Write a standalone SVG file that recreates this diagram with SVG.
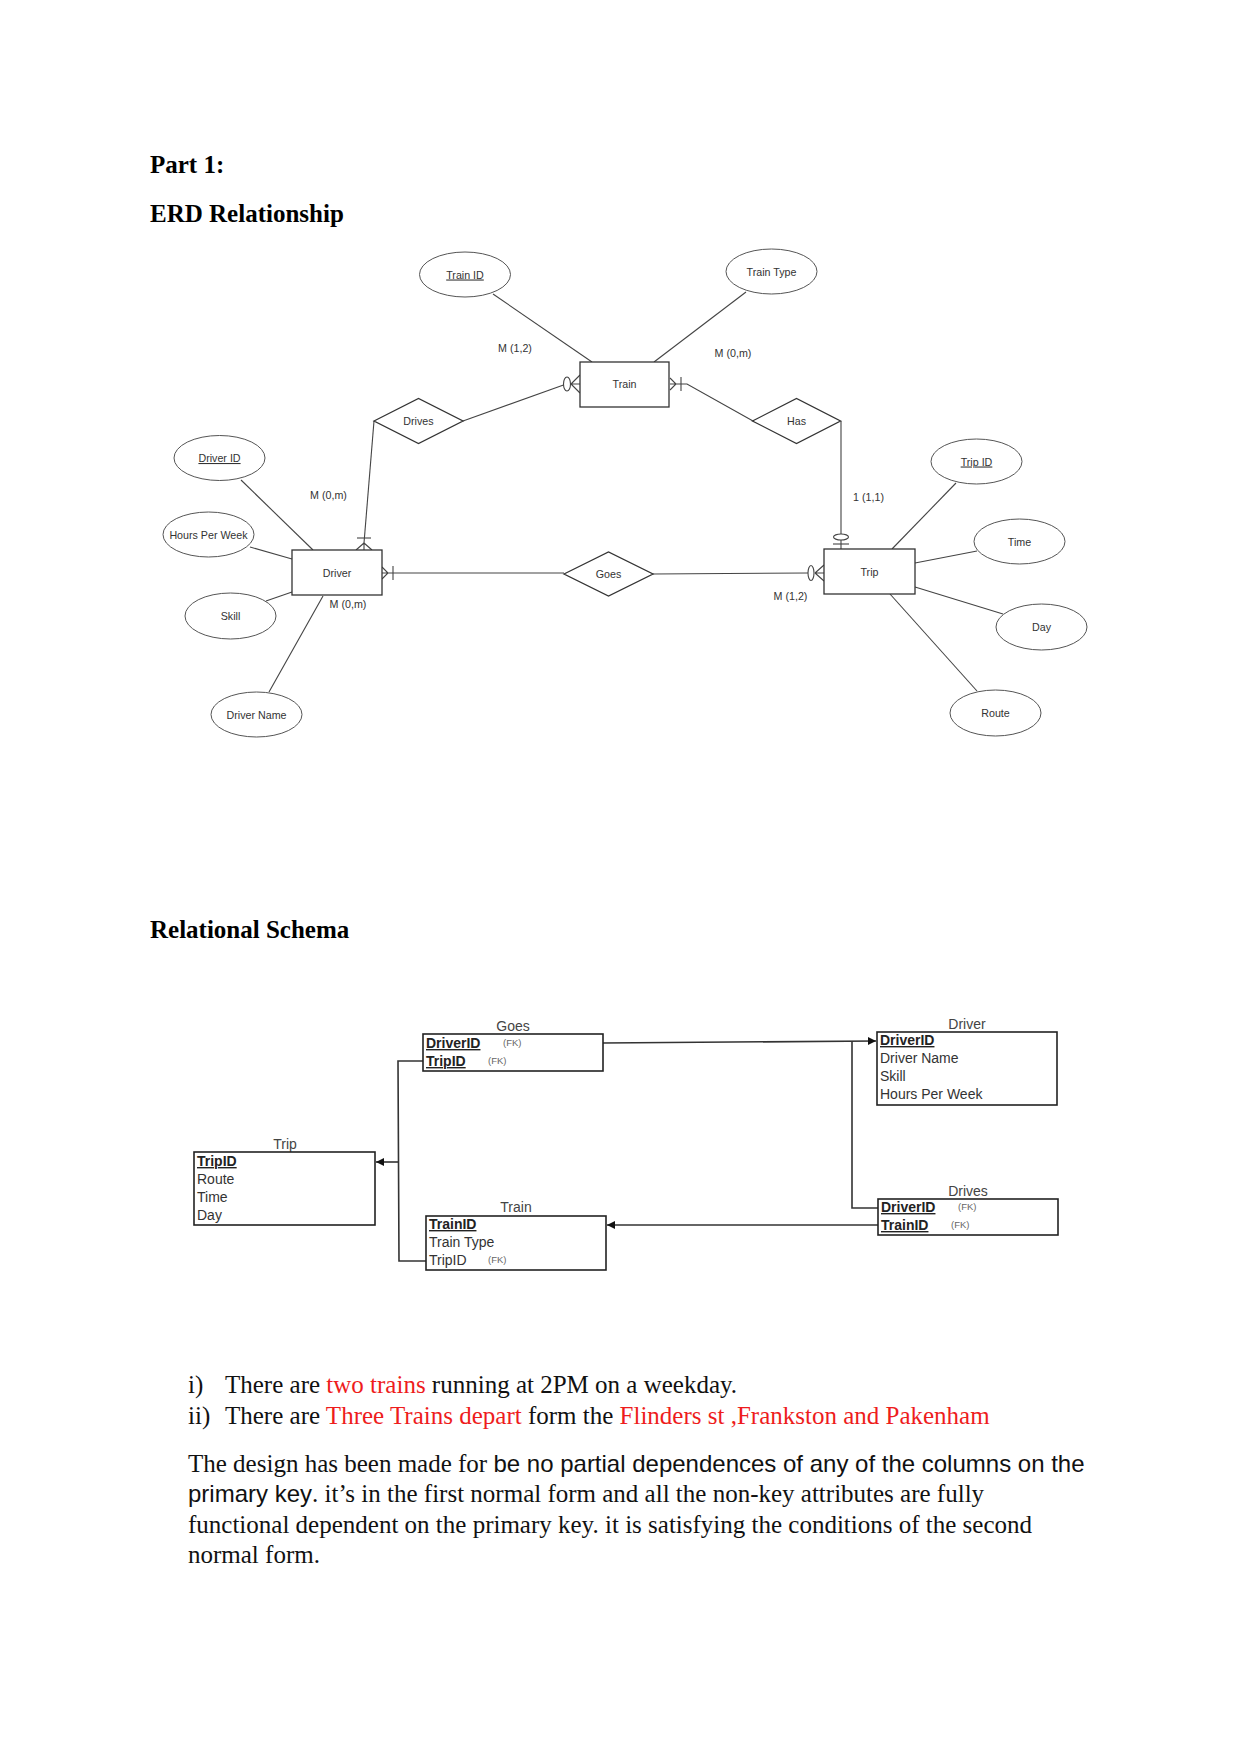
<svg xmlns="http://www.w3.org/2000/svg" width="1241" height="1754" viewBox="0 0 1241 1754">
<defs>
<style>
.h{font-family:"Liberation Serif","Times New Roman",serif;font-weight:bold;font-size:25px;fill:#000}
.b{font-family:"Liberation Serif","Times New Roman",serif;font-size:25px;fill:#111}
.s{font-family:"Liberation Sans",Arial,sans-serif;font-size:24px}
.red{fill:#ee1c1c}
.e{fill:#fff;stroke:#555;stroke-width:1}
.ent{fill:#fff;stroke:#333;stroke-width:1.3}
.t{font-family:"Liberation Sans",Arial,sans-serif;font-size:10.7px;fill:#333;text-anchor:middle}
.u{text-decoration:underline}
.ln{fill:none;stroke:#444;stroke-width:1.1}
.tb{fill:#fff;stroke:#222;stroke-width:1.6}
.tt{font-family:"Liberation Sans",Arial,sans-serif;font-size:14px;fill:#444;text-anchor:middle}
.r{font-family:"Liberation Sans",Arial,sans-serif;font-size:14px;fill:#333}
.k{font-weight:bold;text-decoration:underline;fill:#222}
.fk{font-family:"Liberation Sans",Arial,sans-serif;font-size:9.5px;fill:#666}
.sc{fill:none;stroke:#333;stroke-width:1.6}
</style>
<marker id="arr" viewBox="0 0 10 10" refX="10" refY="5" markerWidth="8" markerHeight="9" markerUnits="userSpaceOnUse" orient="auto">
<path d="M0,0 L10,5 L0,10 Z" fill="#111"/>
</marker>
</defs>
<rect width="1241" height="1754" fill="#fff"/>

<text class="h" x="150" y="173">Part 1:</text>
<text class="h" x="150" y="222">ERD Relationship</text>

<g id="connectors">
<path class="ln" d="M493,294 L592,362"/>
<path class="ln" d="M746,292 L654,362"/>
<path class="ln" d="M241,480 L313,550"/>
<path class="ln" d="M250,547 L292,559"/>
<path class="ln" d="M266,601 L292,592"/>
<path class="ln" d="M269,692 L323,596"/>
<path class="ln" d="M956,483 L892,549"/>
<path class="ln" d="M977,551 L915,563"/>
<path class="ln" d="M1003,614 L915,587"/>
<path class="ln" d="M977,691 L890,594"/>
<!-- Drives - Train -->
<path class="ln" d="M463,421 L563.5,385"/>
<ellipse class="ln" cx="567" cy="384" rx="3.5" ry="7"/>
<path class="ln" d="M571,384 L580,375 M571,384 L580,393 M571,384 L580,384"/>
<!-- Drives - Driver -->
<path class="ln" d="M374,421 L364,543"/>
<path class="ln" d="M357,538 L371,538"/>
<path class="ln" d="M364,543 L356,550 M364,543 L372,550 M364,543 L364,550"/>
<!-- Train - Has -->
<path class="ln" d="M670,378 L676,384 L670,390 M670,384 L687,384 L753,421"/>
<path class="ln" d="M681,377 L681,391"/>
<!-- Has - Trip -->
<path class="ln" d="M841,421 L841,534 M841,540 L841,549"/>
<ellipse class="ln" cx="841" cy="537" rx="7.5" ry="3"/>
<path class="ln" d="M833,544 L849,544"/>
<!-- Driver - Goes -->
<path class="ln" d="M382,567 L388,573 L382,579 M382,573 L564,573"/>
<path class="ln" d="M393,566 L393,580"/>
<!-- Goes - Trip -->
<path class="ln" d="M653,574 L808,573"/>
<ellipse class="ln" cx="811" cy="573" rx="3" ry="7.5"/>
<path class="ln" d="M815,573 L824,565 M815,573 L824,581 M815,573 L824,573"/>
<!-- cardinalities -->
<text class="t" x="515" y="352">M (1,2)</text>
<text class="t" x="733" y="357">M (0,m)</text>
<text class="t" x="328.5" y="499">M (0,m)</text>
<text class="t" x="348" y="608">M (0,m)</text>
<text class="t" x="868.5" y="501">1 (1,1)</text>
<text class="t" x="790.5" y="600">M (1,2)</text>
</g>

<g id="train-id"><ellipse class="e" cx="465" cy="274.5" rx="45.5" ry="22.5"/><text class="t u" x="465" y="278.5">Train ID</text></g>
<g id="train-type"><ellipse class="e" cx="771.5" cy="271.5" rx="45.5" ry="22.5"/><text class="t" x="771.5" y="275.5">Train Type</text></g>
<g id="train"><rect class="ent" x="580" y="362" width="89" height="45"/><text class="t" x="624.5" y="388">Train</text></g>
<g id="drives"><path class="ent" d="M374,421 L418.5,398.5 L463,421 L418.5,443.5 Z"/><text class="t" x="418.5" y="425">Drives</text></g>
<g id="has"><path class="ent" d="M752.5,421 L796.5,398.5 L840.5,421 L796.5,443.5 Z"/><text class="t" x="796.5" y="425">Has</text></g>
<g id="driver-id"><ellipse class="e" cx="219.5" cy="458" rx="45.5" ry="22.5"/><text class="t u" x="219.5" y="462">Driver ID</text></g>
<g id="hours-per-week"><ellipse class="e" cx="208.5" cy="534.5" rx="45.5" ry="22.5"/><text class="t" x="208.5" y="538.5">Hours Per Week</text></g>
<g id="skill"><ellipse class="e" cx="230.5" cy="616" rx="45.5" ry="23"/><text class="t" x="230.5" y="620">Skill</text></g>
<g id="driver-name"><ellipse class="e" cx="256.5" cy="714.5" rx="45.5" ry="22.5"/><text class="t" x="256.5" y="718.5">Driver Name</text></g>
<g id="driver"><rect class="ent" x="292" y="550" width="90" height="45"/><text class="t" x="337" y="576.5">Driver</text></g>
<g id="goes"><path class="ent" d="M564,574 L608.5,552 L653,574 L608.5,596 Z"/><text class="t" x="608.5" y="578">Goes</text></g>
<g id="trip"><rect class="ent" x="824" y="549" width="91" height="45"/><text class="t" x="869.5" y="575.5">Trip</text></g>
<g id="trip-id"><ellipse class="e" cx="976.5" cy="461.5" rx="45.5" ry="22.5"/><text class="t u" x="976.5" y="465.5">Trip ID</text></g>
<g id="time"><ellipse class="e" cx="1019.5" cy="541.5" rx="45.5" ry="22.5"/><text class="t" x="1019.5" y="545.5">Time</text></g>
<g id="day"><ellipse class="e" cx="1041.5" cy="627" rx="45.5" ry="23"/><text class="t" x="1041.5" y="631">Day</text></g>
<g id="route"><ellipse class="e" cx="995.5" cy="713" rx="45.5" ry="23"/><text class="t" x="995.5" y="717">Route</text></g>

<text class="h" x="150" y="938">Relational Schema</text>

<g id="schema-connectors">
<path class="sc" d="M603,1043 L876,1041" marker-end="url(#arr)"/>
<path class="sc" d="M852,1041 L852,1208 L878,1208"/>
<path class="sc" d="M423,1061 L398,1061 L399,1261 L426,1261"/>
<path class="sc" d="M398,1162 L376,1162" marker-end="url(#arr)"/>
<path class="sc" d="M878,1225 L607,1225" marker-end="url(#arr)"/>
</g>

<g id="t-goes"><text class="tt" x="513" y="1031">Goes</text><rect class="tb" x="423" y="1034" width="180" height="37"/>
<text class="r k" x="426" y="1048">DriverID</text><text class="fk" x="503" y="1046">(FK)</text>
<text class="r k" x="426" y="1066">TripID</text><text class="fk" x="488" y="1064">(FK)</text></g>

<g id="t-trip"><text class="tt" x="285" y="1149">Trip</text><rect class="tb" x="194" y="1152" width="181" height="73"/>
<text class="r k" x="197" y="1166">TripID</text>
<text class="r" x="197" y="1184">Route</text>
<text class="r" x="197" y="1202">Time</text>
<text class="r" x="197" y="1220">Day</text></g>

<g id="t-train"><text class="tt" x="516" y="1212">Train</text><rect class="tb" x="426" y="1216" width="180" height="54"/>
<text class="r k" x="429" y="1229">TrainID</text>
<text class="r" x="429" y="1247">Train Type</text>
<text class="r" x="429" y="1265">TripID</text><text class="fk" x="488" y="1263">(FK)</text></g>

<g id="t-driver"><text class="tt" x="967" y="1029">Driver</text><rect class="tb" x="877" y="1032" width="180" height="73"/>
<text class="r k" x="880" y="1045">DriverID</text>
<text class="r" x="880" y="1063">Driver Name</text>
<text class="r" x="880" y="1081">Skill</text>
<text class="r" x="880" y="1099">Hours Per Week</text></g>

<g id="t-drives"><text class="tt" x="968" y="1196">Drives</text><rect class="tb" x="878" y="1199" width="180" height="36"/>
<text class="r k" x="881" y="1212">DriverID</text><text class="fk" x="958" y="1210">(FK)</text>
<text class="r k" x="881" y="1230">TrainID</text><text class="fk" x="951" y="1228">(FK)</text></g>

<text class="b" x="188" y="1393">i)</text>
<text class="b" x="225" y="1393">There are <tspan class="red">two trains</tspan> running at 2PM on a weekday.</text>
<text class="b" x="188" y="1424">ii)</text>
<text class="b" x="225" y="1424">There are <tspan class="red">Three Trains depart</tspan> form the <tspan class="red">Flinders st ,Frankston and Pakenham</tspan></text>

<text class="b" x="188" y="1472">The design has been made for <tspan class="s">be no partial dependences of any of the columns on the</tspan></text>
<text class="b" x="188" y="1502"><tspan class="s">primary key</tspan>. it’s in the first normal form and all the non-key attributes are fully</text>
<text class="b" x="188" y="1533">functional dependent on the primary key. it is satisfying the conditions of the second</text>
<text class="b" x="188" y="1563">normal form.</text>
</svg>
